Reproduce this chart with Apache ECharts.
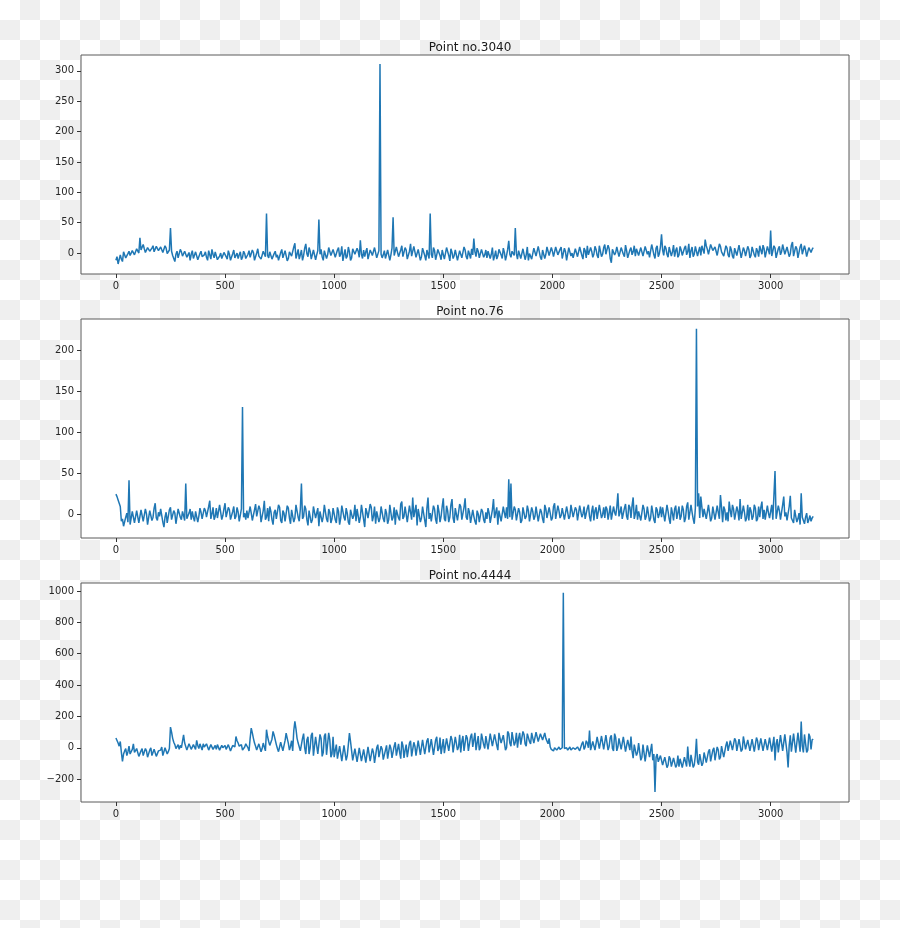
<!DOCTYPE html>
<html>
<head>
<meta charset="utf-8">
<script src="https://cdn.jsdelivr.net/npm/echarts@6/dist/echarts.min.js"></script>
<style>
  html, body { margin: 0; padding: 0; }
  body {
    width: 900px; height: 928px;
    background: repeating-conic-gradient(#efefef 0 25%, #ffffff 0 50%) 0 0 / 40px 40px;
  }
  #chart { width: 900px; height: 928px; }
</style>
</head>
<body>
<div id="chart"></div>
<script>
// ---- data: values, one reading every 5 samples
// (the "A" arrays hold readings at x = 0,10,20,..., the "B" arrays at x = 5,15,25,...)
const STEP = 10;
const titles = ['Point no.3040', 'Point no.76', 'Point no.4444'];
const xTicks = [0, 500, 1000, 1500, 2000, 2500, 3000];
const yTicks1 = [0, 50, 100, 150, 200, 250, 300];
const yTicks2 = [0, 50, 100, 150, 200];
const yTicks3 = [-200, 0, 200, 400, 600, 800, 1000];

const point3040A = [
  -12,-18,-3,-14,5,-6,3,-2,6,0,
  8,25,2,7,-1,10,4,12,3,9,
  6,13,2,8,0,41,-4,-14,3,-5,
  2,-8,5,-3,-12,4,-6,1,-10,3,
  -9,2,-12,-3,6,-8,-1,-14,0,-6,
  3,-10,-2,-13,5,-5,-9,2,-7,-1,
  -11,4,-6,1,-9,7,-4,-12,2,65,
  -8,5,-12,3,-3,-14,6,-5,1,-9,
  4,-7,16,-2,-10,5,-4,15,-6,3,
  -8,2,-3,55,6,-12,3,-3,8,-7,
  4,-10,9,-2,-13,6,-5,2,-8,10,
  -4,3,21,-9,-6,8,-12,1,-3,7,
  -5,311,-8,4,-11,6,-3,59,-7,2,
  -9,12,-4,5,-13,15,-2,8,-10,3,
  -6,7,-12,2,65,-8,4,-3,9,-11,
  3,-7,6,-13,1,-4,8,-9,2,-5,
  5,-10,-2,7,24,-6,3,-11,4,-3,
  -8,6,-2,-12,4,-5,7,-9,1,-4,
  20,-7,5,41,-10,3,-6,8,-3,-12,
  2,-8,6,-3,9,-11,4,-2,7,-6,
  3,-9,8,-4,10,-7,2,-12,6,0,
  -5,9,-3,7,-10,4,12,-6,3,-2,
  6,-8,10,-2,14,-4,7,-16,5,1,
  8,-3,11,-6,4,-10,9,2,-5,7,
  -2,10,-8,13,3,-5,6,-9,12,-1,
  31,-4,8,-7,11,2,-6,9,-3,5,
  -5,12,2,-8,10,-2,14,3,-4,9,
  22,6,-3,13,1,9,-6,11,3,-2,
  8,-7,5,-9,7,-3,10,-6,4,-8,
  6,-4,9,-7,3,12,-2,7,-5,10,
  37,-3,8,-6,11,2,16,-4,9,-1,
  18,-3,7,-6,15,0,5,-4,8,6
];
const point3040B = [
  -6,-15,-10,2,-8,-1,-4,4,-3,7,
  0,5,14,1,9,3,8,2,11,4,
  10,1,12,-1,5,3,-9,-2,-8,6,
  -5,3,-7,1,-2,-9,2,-11,-1,-6,
  -3,-7,4,-10,-2,2,-11,-5,-9,1,
  -6,4,-12,-1,-8,0,-3,-11,3,-9,
  -2,-7,5,-12,0,-5,-10,3,-6,-4,
  2,-10,-1,-7,-12,1,-8,4,-13,2,
  -5,10,-9,6,-3,-12,8,-1,9,-10,
  5,-11,4,-2,-6,4,-9,9,-4,6,
  -7,5,-6,11,-3,-9,10,-12,7,-2,
  8,-7,-2,5,2,-10,5,-4,9,-8,
  4,-2,-3,-9,5,-12,8,-4,10,-6,
  5,-6,9,-10,3,-5,11,-7,6,-12,
  8,-4,5,-9,-2,9,-11,6,-4,5,
  -10,9,-4,7,-9,5,-12,4,-8,10,
  -6,4,-9,-3,2,8,-8,6,-7,5,
  3,-9,9,-5,-10,6,-3,8,-12,6,
  -2,3,-4,-1,4,-9,7,-11,10,-1,
  -10,8,-5,11,-7,5,-9,10,-4,9,
  -6,10,-3,6,-9,8,-12,9,-5,-8,
  7,-6,10,-4,8,-8,-3,9,-7,11,
  -4,12,-6,9,-2,13,-9,6,-3,10,
  -6,9,-2,13,-8,5,-3,12,7,-4,
  9,-5,11,-2,-7,14,-3,8,-6,10,
  5,12,-2,10,-5,13,4,-7,11,-4,
  8,-3,15,4,-6,11,-5,10,12,-1,
  12,-2,14,4,10,-4,15,2,-5,12,
  -3,11,-5,8,-4,13,-8,9,-5,11,
  -8,10,-3,8,-6,5,13,-7,11,-2,
  -5,12,-8,7,-3,14,-2,10,-6,13,
  -5,11,-8,10,-2,12,-6,9,1,9
];

const point76A = [
  25,18,10,-5,-12,2,42,-10,6,-8,
  3,-9,5,-6,1,-11,4,-3,14,-7,
  -2,6,-15,3,-8,9,-4,2,-10,5,
  -6,-1,38,-3,7,4,-8,6,-2,3,
  -4,5,-2,17,1,-6,8,-3,11,-1,
  14,-4,6,-8,10,-2,3,-7,131,2,
  5,-6,2,-9,13,-4,7,-11,17,-3,
  -8,4,-12,6,-3,9,-10,2,-6,8,
  -11,5,-4,10,-8,38,-2,7,-13,4,
  -6,9,-3,-14,6,-2,11,-9,3,-5,
  7,-10,4,-4,12,-7,2,-12,8,-1,
  -8,5,-3,10,-15,3,-6,9,-2,-11,
  6,-4,11,-9,2,-6,14,-3,-12,5,
  -7,16,-2,8,-10,3,21,-5,-13,6,
  -4,9,-15,21,2,-6,7,-11,4,-2,
  20,-8,5,-3,19,-10,6,-5,10,-7,
  20,-6,3,-9,-2,-12,1,-8,4,-10,
  -5,2,-9,19,-3,-12,5,-6,2,9,
  43,38,-4,6,-9,3,-7,10,-2,5,
  -8,4,-2,11,-6,3,-10,7,-3,2,
  -4,14,-7,5,-1,9,-8,3,-2,10,
  -3,6,-6,12,1,-5,8,-2,4,-7,
  9,-3,11,0,-4,7,2,-6,10,-1,
  26,3,-5,8,-2,12,-4,21,1,-6,
  5,-8,7,-2,9,-4,3,-10,6,1,
  -3,8,-6,4,-11,2,7,-5,10,-2,
  6,-4,15,-8,3,-11,226,26,22,-3,
  5,-7,2,-4,8,-6,3,24,-9,6,
  3,16,-3,7,-8,4,19,-6,3,-4,
  -7,5,-2,8,-5,-3,16,6,-8,2,
  4,-6,53,-3,5,-8,22,3,-5,23,
  -4,6,-9,2,26,-7,-3,-10,-1,-4
];
const point76B = [
  22,14,-8,-14,-3,-9,-12,4,-10,5,
  -10,6,-8,7,-12,5,-7,8,-4,3,
  7,-9,-3,-10,6,-6,5,-11,7,-3,
  4,-7,-5,2,-6,-3,4,-9,8,-5,
  8,-3,10,-5,9,-2,-4,12,-6,7,
  -3,9,-6,4,-5,9,-8,7,-3,-6,
  -4,10,-7,6,-2,11,-9,5,-6,8,
  10,-6,3,-5,12,-7,5,-8,11,-4,
  6,-9,12,-3,7,-5,11,-6,5,-10,
  10,-4,8,4,-9,12,-5,7,-10,8,
  -6,9,-12,11,-3,8,-9,6,-5,12,
  7,-10,12,-6,8,-4,13,-8,10,4,
  -9,10,-5,7,-11,12,-7,9,6,-4,
  13,-5,10,-9,11,-6,-3,12,7,-9,
  10,-7,8,-5,-8,11,-6,12,-9,10,
  -5,11,-9,12,-4,8,-7,13,-6,9,
  -3,8,-10,6,-8,5,-9,7,-6,3,
  8,-10,6,-4,9,5,-8,10,-4,-5,
  -3,-6,10,-7,8,-10,9,-5,11,-8,
  9,-6,10,-8,7,-5,12,-4,9,-7,
  10,-5,11,-4,8,-6,10,-5,12,-3,
  9,-7,11,-3,10,-6,12,-8,11,5,
  -5,12,-4,9,10,-6,11,-5,3,9,
  -2,10,-7,13,-6,9,11,-5,12,4,
  -7,12,-6,10,-8,11,-6,9,-4,10,
  9,-8,12,-5,9,-7,11,-4,-6,11,
  -9,10,-6,12,-5,8,10,-4,9,7,
  -5,12,-8,10,-6,11,-5,9,10,-7,
  -8,5,12,-6,10,-7,-5,11,-8,12,
  9,-6,12,-8,10,9,-5,-6,11,-4,
  12,-7,-5,11,-6,12,-2,-7,10,-4,
  -10,-2,-5,-12,-3,-11,2,-6,-8,-2
];

const point4444A = [
  62,30,40,-87,-20,-50,10,-45,25,-40,
  -10,-60,-5,-45,-20,-55,0,-40,-15,-50,
  -30,5,-45,-10,-25,132,60,20,5,-10,
  0,83,20,-10,15,-15,10,47,-5,15,
  25,0,20,-10,15,-5,-10,10,-15,0,
  15,-15,10,-10,25,72,30,0,-15,5,
  25,-20,125,60,10,-10,35,-5,20,115,
  40,5,104,50,-5,-20,25,-10,93,30,
  10,-20,168,60,20,-30,90,-40,70,0,
  95,-45,80,-50,60,-30,90,-55,50,-40,
  -60,20,-80,0,-75,10,-50,93,-20,-85,
  -10,-90,0,-80,-20,-95,10,-75,-30,-90,
  20,-70,-10,-80,15,-60,-5,-75,35,-55,
  -30,40,-65,20,-50,45,-60,10,-40,50,
  -45,40,-30,60,-20,45,-35,70,-5,-40,
  55,-25,70,-10,50,-40,65,5,-30,75,
  -10,60,-20,90,15,-15,75,0,95,-5,
  70,-10,95,5,80,-15,100,20,75,0,
  90,10,100,35,0,95,20,85,10,100,
  25,90,35,95,40,85,72,60,25,5,
  -10,0,-15,5,-5,988,-10,-15,5,-10,
  0,-15,10,-10,40,5,30,110,-15,50,
  -10,60,0,70,-15,75,10,80,-20,65,
  5,70,-15,60,-20,55,72,-66,30,-30,
  20,-60,25,-75,10,-50,-80,-282,-40,-100,
  -60,-120,-50,-110,-70,-127,-55,-110,-120,-60,
  -115,-55,8,-120,-50,-110,57,-108,-40,-95,
  -20,-85,-10,-80,0,-70,-15,-60,10,-50,
  40,-25,50,-20,45,-15,55,-10,68,-20,
  55,-20,60,-15,45,-25,65,-20,50,-10,
  65,-20,-81,55,-30,70,-15,75,-125,80,
  -25,85,-20,90,168,-30,80,-15,70,50
];
const point4444B = [
  50,10,-30,-40,-5,-25,-40,-10,-30,-5,
  -55,-20,-50,-5,-60,-15,-50,-10,-55,-20,
  -15,-50,0,-40,-5,100,35,-5,20,15,
  40,30,-15,25,-10,20,-10,15,25,-15,
  5,25,-15,20,-10,15,20,-15,15,-10,
  -10,20,-20,15,5,45,10,20,-10,25,
  0,60,95,30,-15,25,-25,30,-20,70,
  15,55,80,20,-25,35,-20,45,60,-15,
  45,110,120,30,-20,60,0,50,-40,80,
  -50,70,-40,85,-55,75,-45,95,-60,70,
  -15,-70,10,-85,15,-80,20,40,-80,-5,
  -90,0,-85,-10,-95,5,-85,-5,-97,0,
  -60,10,-76,-15,-70,20,-65,10,-50,25,
  -70,15,-15,-60,30,-55,35,-50,45,-45,
  50,-40,45,-30,55,-45,50,-20,65,-30,
  -35,60,-20,75,-30,70,-15,83,40,-20,
  80,-20,70,5,95,30,-15,90,20,75,
  -10,90,10,85,15,95,30,80,-15,104,
  30,100,15,95,60,20,104,25,90,40,
  95,30,100,40,90,50,95,55,60,-10,
  -20,10,-5,-10,0,-5,0,-5,-15,0,
  -10,5,-20,25,-10,45,0,-15,40,-15,
  70,-5,75,-10,80,-15,65,-5,90,-20,
  60,-10,70,-24,50,-15,-20,20,-50,30,
  -80,20,-87,15,-60,25,-40,-60,-90,-50,
  -110,-60,-127,-55,-120,-65,-125,-50,-70,-127,
  -60,-120,-80,-45,-125,-50,-90,-40,-115,-30,
  -95,-25,-87,-15,-80,5,-75,10,-60,15,
  -20,45,-15,60,-20,55,-24,72,-10,50,
  -20,55,-24,65,-15,60,-20,55,-15,65,
  -25,70,25,-30,80,-20,85,-30,15,-25,
  90,-32,96,-25,10,85,-30,90,-10,55
];

// ---- chart ----
const seriesA = [point3040A, point76A, point4444A];
const seriesB = [point3040B, point76B, point4444B];
const yTickSets = [yTicks1, yTicks2, yTicks3];
const yRanges = [[-34.5, 326], [-28.3, 238], [-346, 1051]];
const gridTops = [55, 319, 583];
const titleTops = [37, 301, 565];
const FONT = 'DejaVu Sans';
const fmt = v => String(v).replace('-', '\u2212');

function buildData(a, b) {
  const out = [];
  for (let i = 0; i < a.length; i++) {
    out.push([i * STEP, a[i]]);
    out.push([i * STEP + STEP / 2, b[i]]);
  }
  return out;
}

const grids = [], xAxes = [], yAxes = [], series = [], titleOpts = [];
for (let k = 0; k < 3; k++) {
  grids.push({
    left: 81, top: gridTops[k], width: 768, height: 219,
    show: true, backgroundColor: '#ffffff', borderColor: '#5a5a5a', borderWidth: 1
  });
  xAxes.push({
    type: 'value', gridIndex: k, min: -160, max: 3359, position: 'bottom',
    axisLine: { show: false, onZero: false },
    splitLine: { show: false },
    axisTick: { show: true, length: 4, customValues: xTicks, lineStyle: { color: '#333', width: 1 } },
    axisLabel: { customValues: xTicks, margin: 7, color: '#262626', fontSize: 10, fontFamily: FONT, formatter: fmt }
  });
  yAxes.push({
    type: 'value', gridIndex: k, min: yRanges[k][0], max: yRanges[k][1], position: 'left',
    axisLine: { show: false, onZero: false },
    splitLine: { show: false },
    axisTick: { show: true, length: 4, customValues: yTickSets[k], lineStyle: { color: '#333', width: 1 } },
    axisLabel: { customValues: yTickSets[k], margin: 7, color: '#262626', fontSize: 10, fontFamily: FONT, formatter: fmt }
  });
  series.push({
    type: 'line', xAxisIndex: k, yAxisIndex: k,
    data: buildData(seriesA[k], seriesB[k]),
    showSymbol: false, symbol: 'none',
    lineStyle: { color: '#1f77b4', width: 1.5 },
    animation: false
  });
  titleOpts.push({
    text: titles[k], left: 465, top: titleTops[k], textAlign: 'center',
    textStyle: { fontSize: 12, fontWeight: 'normal', color: '#1a1a1a', fontFamily: FONT }
  });
}

const chart = echarts.init(document.getElementById('chart'), null, { renderer: 'canvas' });
chart.setOption({
  backgroundColor: 'transparent',
  animation: false,
  title: titleOpts,
  grid: grids,
  xAxis: xAxes,
  yAxis: yAxes,
  series: series
});
</script>
</body>
</html>
